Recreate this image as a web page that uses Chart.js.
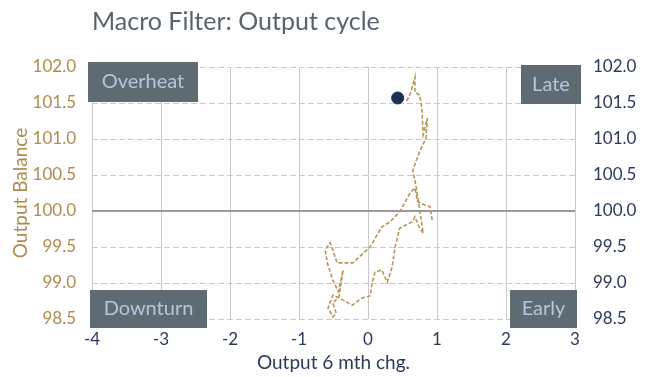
<!DOCTYPE html>
<html>
<head>
<meta charset="utf-8">
<script src="https://cdn.jsdelivr.net/npm/chart.js@4"></script>
<style>
  html, body { margin: 0; padding: 0; background: #fff; }
  #wrap { width: 648px; height: 377px; }
</style>
</head>
<body>
<div id="wrap"><canvas id="cycleChart"></canvas></div>
<script>
// Data, oldest first; the last point is the current reading
var outputChg = [0.93, 0.90, 0.83, 0.72, 0.68, 0.61, 0.46, 0.32, 0.20, 0.03,
    -0.22, -0.45, -0.51, -0.55, -0.62, -0.59, -0.51, -0.43, -0.36, -0.42,
    -0.51, -0.46, -0.51, -0.58, -0.51, -0.41, -0.23, -0.09, 0.03, 0.06,
    0.10, 0.20, 0.28, 0.35, 0.39, 0.46, 0.64, 0.68, 0.75, 0.80,
    0.70, 0.65, 0.75, 0.84, 0.86, 0.80, 0.78, 0.75, 0.68, 0.68,
    0.62, 0.57, 0.43];
var outputBal = [99.875, 100.06, 100.08, 100.13, 100.32, 100.25, 99.99, 99.85, 99.78, 99.50,
    99.28, 99.28, 99.46, 99.56, 99.46, 99.28, 99.04, 98.88, 99.18, 98.81,
    98.72, 98.58, 98.53, 98.65, 98.83, 98.79, 98.69, 98.79, 98.82, 99.00,
    99.15, 99.18, 99.01, 99.22, 99.49, 99.76, 99.85, 99.92, 99.76, 99.69,
    100.32, 100.57, 100.83, 101.01, 101.29, 101.06, 101.43, 101.61, 101.65, 101.86,
    101.65, 101.54, 101.57];
var xTicks = [-4, -3, -2, -1, 0, 1, 2, 3];
var yTicks = [98.5, 99.0, 99.5, 100.0, 100.5, 101.0, 101.5, 102.0];
var quadrants = ['Overheat', 'Late', 'Downturn', 'Early'];

var gold = '#ad8c4e';
var navy = '#2b3a5c';
var fontName = 'Lato';

var path = outputChg.map(function (x, i) { return { x: x, y: outputBal[i] }; });
var latest = path[path.length - 1];

// Grey quadrant boxes on top of the plot
var quadrantBoxes = {
    id: 'quadrantBoxes',
    afterDraw: function (chart) {
        var a = chart.chartArea;
        var c = chart.ctx;
        var boxes = [
            { t: quadrants[0], x: a.left - 4, y: a.top - 5, w: 110, h: 40 },
            { t: quadrants[1], x: a.right - 54, y: a.top - 2, w: 60, h: 39 },
            { t: quadrants[2], x: a.left - 2, y: a.bottom - 29, w: 117, h: 38 },
            { t: quadrants[3], x: a.right - 65, y: a.bottom - 29, w: 67, h: 38 }
        ];
        c.save();
        c.font = '20px ' + fontName;
        c.textAlign = 'center';
        c.textBaseline = 'middle';
        boxes.forEach(function (b) {
            c.fillStyle = '#5f6b73';
            c.fillRect(b.x, b.y, b.w, b.h);
            c.fillStyle = '#b4c5dd';
            c.fillText(b.t, b.x + b.w / 2, b.y + b.h / 2);
        });
        c.restore();
    }
};

new Chart(document.getElementById('cycleChart'), {
    type: 'scatter',
    data: {
        datasets: [{
            data: [latest],
            pointRadius: 6,
            pointBackgroundColor: '#1c2f55',
            pointBorderColor: '#1c2f55',
            showLine: false
        }, {
            data: path,
            showLine: true,
            borderColor: '#b8955a',
            borderWidth: 1.6,
            borderDash: [4, 2],
            pointRadius: 0,
            tension: 0
        }]
    },
    options: {
        responsive: true,
        maintainAspectRatio: false,
        animation: false,
        layout: { padding: 0 },
        plugins: {
            legend: { display: false },
            tooltip: { enabled: false },
            title: {
                display: true,
                fullSize: false,
                align: 'start',
                text: 'Macro Filter: Output cycle',
                color: '#59636c',
                font: { family: fontName, size: 25, weight: 'normal' },
                padding: { top: 7, bottom: 30 }
            }
        },
        scales: {
            x: {
                type: 'linear',
                min: xTicks[0],
                max: xTicks[xTicks.length - 1],
                afterBuildTicks: function (s) { s.ticks = xTicks.map(function (v) { return { value: v }; }); },
                afterFit: function (s) { s.height = 58; },
                grid: { color: '#c9c9c9', drawTicks: false },
                border: { display: false },
                ticks: { color: navy, padding: 10, font: { family: fontName, size: 17 } },
                title: {
                    display: true,
                    text: 'Output 6 mth chg.',
                    color: navy,
                    font: { family: fontName, size: 19 },
                    padding: { top: 3, bottom: 3 }
                }
            },
            y: {
                type: 'linear',
                position: 'left',
                min: yTicks[0],
                max: yTicks[yTicks.length - 1],
                afterBuildTicks: function (s) { s.ticks = yTicks.map(function (v) { return { value: v }; }); },
                afterFit: function (s) { s.width = 92; },
                grid: {
                    drawTicks: false,
                    color: function (ctx) { return ctx.tick && ctx.tick.value === 100 ? '#9a9a9a' : '#c9c9c9'; },
                    lineWidth: function (ctx) { return ctx.tick && ctx.tick.value === 100 ? 2 : 1; }
                },
                border: {
                    display: false,
                    dash: function (ctx) { return ctx.tick && ctx.tick.value === 100 ? [] : [6, 3]; }
                },
                ticks: {
                    color: gold,
                    padding: 16,
                    font: { family: fontName, size: 17 },
                    callback: function (v) { return Number(v).toFixed(1); }
                },
                title: {
                    display: true,
                    text: 'Output Balance',
                    color: gold,
                    font: { family: fontName, size: 19 },
                    padding: { top: 9, bottom: 9 }
                }
            },
            y2: {
                type: 'linear',
                position: 'right',
                min: yTicks[0],
                max: yTicks[yTicks.length - 1],
                afterBuildTicks: function (s) { s.ticks = yTicks.map(function (v) { return { value: v }; }); },
                afterFit: function (s) { s.width = 73; },
                grid: { display: false, drawTicks: false },
                border: { display: false },
                ticks: {
                    color: navy,
                    padding: 18,
                    font: { family: fontName, size: 17 },
                    callback: function (v) { return Number(v).toFixed(1); }
                }
            }
        }
    },
    plugins: [quadrantBoxes]
});
</script>
</body>
</html>
